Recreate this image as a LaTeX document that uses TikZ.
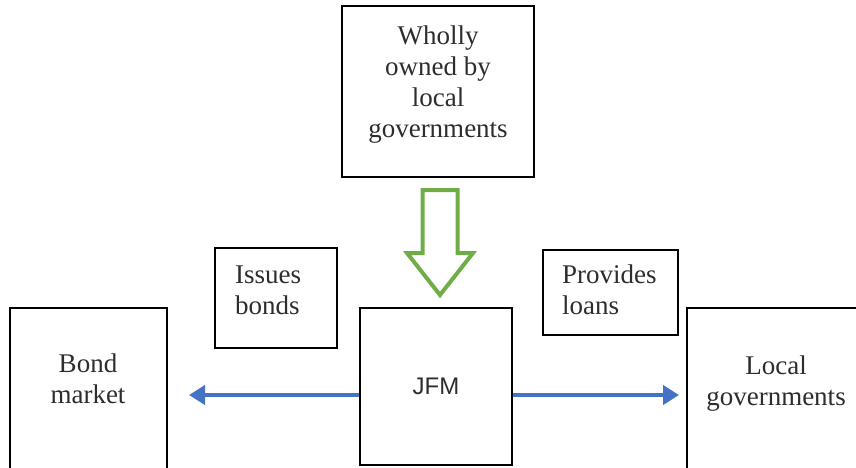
\documentclass[tikz,border=0pt]{standalone}
\usepackage{fontspec}
\setmainfont{Liberation Serif}
\newfontfamily\jfmfont{Liberation Sans}
\usetikzlibrary{positioning, calc, arrows.meta}
\definecolor{flowblue}{RGB}{68,114,196}
\definecolor{owngreen}{RGB}{112,173,71}
\definecolor{inkgray}{RGB}{45,45,45}

\begin{document}
\begin{tikzpicture}[x=1pt, y=1pt,
    box/.style={draw=black, line width=1.6pt, inner sep=0pt},
    txt/.style={inner sep=0pt, text=inkgray, font=\rmfamily\fontsize{27}{31}\selectfont},
    flow/.style={-{Triangle[length=16pt, width=19pt]}, draw=flowblue, line width=4pt},
    ownarrow/.style={draw=owngreen, line width=4pt, line join=miter}]
    \useasboundingbox (0,0) rectangle (856,467);
    \clip (0,0) rectangle (856,467);

    \node[box, minimum width=192pt, minimum height=171pt] (owners) at (438,375.5) {};
    \node[txt, align=center] (ownerstext) at (438,382) {Wholly\\owned by\\local\\governments};

    \node[box, minimum width=152pt, minimum height=157pt, text=inkgray, font=\jfmfont\fontsize{24}{28}\selectfont] (jfm) at (436,80.5) {JFM};

    \node[box, minimum width=157pt, minimum height=200pt] (bond) at (88.5,59) {};
    \node[txt, align=center] (bondtext) at (88,88) {Bond\\market};

    \node[box, minimum width=178pt, minimum height=200pt] (localgov) at (776,59) {};
    \node[txt, align=center] (localtext) at (776,83) {Local\\governments};

    \node[box, minimum width=122pt, minimum height=100pt] (issues) at (276,169) {};
    \node[txt, align=left, anchor=west] (issuestext) at (235,177) {Issues\\bonds};

    \node[box, minimum width=135pt, minimum height=85pt] (provides) at (610.5,174.5) {};
    \node[txt, align=left, anchor=west] (providestext) at (562,177) {Provides\\loans};

    % blue flows out of JFM
    \coordinate (bondtip) at (189,72);
    \coordinate (loantip) at (679,72);
    \draw[flow] (jfm.west |- bondtip) -- (bondtip);
    \draw[flow] (jfm.east |- loantip) -- (loantip);

    % green ownership arrow
    \coordinate (owntip) at (440,172);
    \draw[ownarrow] (owntip) -- ++(33,42) -- ++(-15.5,0) -- ++(0,63) -- ++(-35,0) -- ++(0,-63) -- ++(-15.5,0) -- cycle;

\end{tikzpicture}
\end{document}
